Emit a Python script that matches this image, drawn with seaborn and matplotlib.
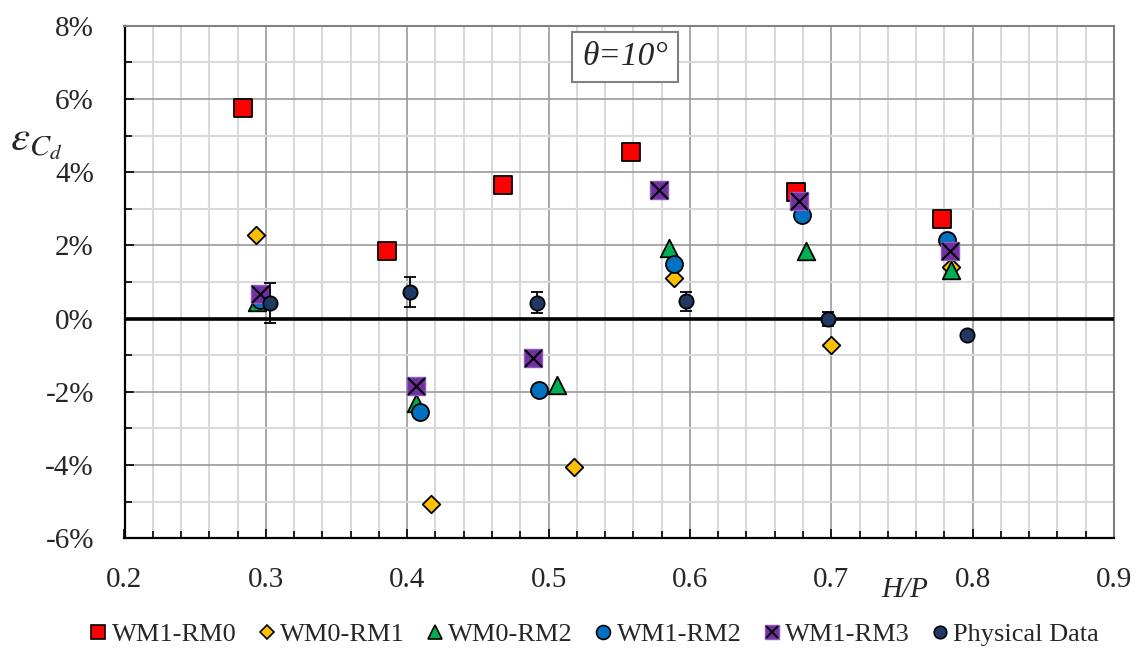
import matplotlib
matplotlib.use("Agg")
import matplotlib.pyplot as plt
from matplotlib.lines import Line2D
from matplotlib.legend_handler import HandlerTuple
from matplotlib.ticker import MultipleLocator, FuncFormatter
import pandas as pd
import seaborn as sns

# Discharge-coefficient error (%) against head ratio H/P, theta = 10 deg
hp_wm1_rm0 = [0.284, 0.386, 0.468, 0.558, 0.675, 0.778]
ecd_wm1_rm0 = [5.76, 1.85, 3.66, 4.55, 3.47, 2.72]

hp_wm0_rm1 = [0.293, 0.417, 0.518, 0.589, 0.700, 0.785]
ecd_wm0_rm1 = [2.27, -5.07, -4.06, 1.11, -0.73, 1.41]

hp_wm0_rm2 = [0.294, 0.406, 0.506, 0.585, 0.682, 0.785]
ecd_wm0_rm2 = [0.45, -2.30, -1.82, 1.93, 1.85, 1.34]

hp_wm1_rm2 = [0.296, 0.409, 0.493, 0.589, 0.679, 0.782]
ecd_wm1_rm2 = [0.50, -2.55, -1.94, 1.50, 2.84, 2.15]

hp_wm1_rm3 = [0.296, 0.406, 0.489, 0.578, 0.677, 0.784]
ecd_wm1_rm3 = [0.68, -1.85, -1.07, 3.50, 3.22, 1.86]

hp_phys = [0.303, 0.402, 0.492, 0.597, 0.698, 0.796]
ecd_phys = [0.43, 0.72, 0.44, 0.47, -0.01, -0.45]
err_phys = [0.55, 0.41, 0.30, 0.25, 0.19, 0.06]

series_names = ["WM1-RM0", "WM0-RM1", "WM0-RM2", "WM1-RM2", "WM1-RM3", "Physical Data"]

sns.set_theme(style="white")
plt.rcParams["font.family"] = ["Liberation Serif", "DejaVu Serif"]
plt.rcParams["mathtext.fontset"] = "stix"

fig = plt.figure(figsize=(11.39, 6.5), dpi=100)
ax = fig.add_axes([124.5 / 1139, 1 - 538.3 / 650, (1114 - 124.5) / 1139, (538.3 - 25.7) / 650])

styles = [
    (hp_wm1_rm0, ecd_wm1_rm0, "s", 150, "#FF0000"),
    (hp_wm0_rm1, ecd_wm0_rm1, "D", 80, "#FFC000"),
    (hp_wm0_rm2, ecd_wm0_rm2, "^", 160, "#00B050"),
    (hp_wm1_rm2, ecd_wm1_rm2, "o", 150, "#0070C0"),
]
for i, (xs, ys, m, s, c) in enumerate(styles):
    df = pd.DataFrame({"hp": xs, "ecd": ys})
    sns.scatterplot(data=df, x="hp", y="ecd", marker=m, s=s, color=c,
                    edgecolor="black", linewidth=1.3, ax=ax, zorder=4 + i, legend=False)

# purple square with a black cross drawn on top
df3 = pd.DataFrame({"hp": hp_wm1_rm3, "ecd": ecd_wm1_rm3})
sns.scatterplot(data=df3, x="hp", y="ecd", marker="s", s=160, color="#7030A0",
                edgecolor="#8E5BC0", linewidth=1.0, ax=ax, zorder=8, legend=False)
sns.scatterplot(data=df3, x="hp", y="ecd", marker="x", s=150, color="black",
                linewidth=1.5, ax=ax, zorder=9, legend=False)

# physical measurements with uncertainty bars
ax.errorbar(hp_phys, ecd_phys, yerr=err_phys, fmt="none", ecolor="black",
            elinewidth=1.3, capsize=4.5, capthick=1.3, zorder=10)
dfp = pd.DataFrame({"hp": hp_phys, "ecd": ecd_phys})
sns.scatterplot(data=dfp, x="hp", y="ecd", marker="o", s=105, color="#1F3864",
                edgecolor="black", linewidth=1.3, ax=ax, zorder=11, legend=False)

ax.axhline(0, color="black", lw=2.6, zorder=3)

ax.set_xlim(0.2, 0.9)
ax.set_ylim(-6, 8)
ax.xaxis.set_major_locator(MultipleLocator(0.1))
ax.xaxis.set_minor_locator(MultipleLocator(0.02))
ax.yaxis.set_major_locator(MultipleLocator(2))
ax.yaxis.set_minor_locator(MultipleLocator(1))
ax.xaxis.set_major_formatter(FuncFormatter(lambda v, p: f"{v:.1f}"))
ax.yaxis.set_major_formatter(FuncFormatter(lambda v, p: f"{v:.0f}%"))

ax.grid(which="minor", color="#D9D9D9", lw=1.5, zorder=0)
ax.grid(which="major", color="#999999", lw=1.2, zorder=1)
ax.set_axisbelow(True)

ax.tick_params(which="both", direction="in", top=False, right=False,
               left=True, bottom=True, color="black", width=1.2)
ax.tick_params(which="major", length=6.5)
ax.tick_params(which="minor", length=5)
ax.tick_params(axis="y", which="major", labelsize=21, pad=22)
ax.tick_params(axis="x", which="major", labelsize=21, pad=21)

for side in ["left", "bottom"]:
    ax.spines[side].set_color("black")
    ax.spines[side].set_linewidth(1.6)
for side in ["top", "right"]:
    ax.spines[side].set_color("#808080")
    ax.spines[side].set_linewidth(1.5)
    ax.spines[side].set_visible(True)

ax.set_xlabel("")
ax.set_ylabel("")
fig.text(905 / 1139, 1 - 590 / 650, "H/P", style="italic", fontsize=21,
         ha="center", va="center")
fig.text(36 / 1139, 1 - 143 / 650, r"$\varepsilon_{C_d}$", fontsize=31,
         ha="center", va="center")
fig.text(625 / 1139, 1 - 57 / 650, "θ=10°", style="italic", fontsize=24,
         ha="center", va="center",
         bbox=dict(boxstyle="square,pad=0.3", facecolor="white", edgecolor="#808080", lw=1.5))

purple_sq = Line2D([], [], ls="none", marker="s", ms=10, mfc="#7030A0", mec="#8E5BC0", mew=1.0)
purple_x = Line2D([], [], ls="none", marker="x", ms=9, mec="black", mew=1.3)
handles = [
    Line2D([], [], ls="none", marker="s", ms=10, mfc="#FF0000", mec="black", mew=1.2),
    Line2D([], [], ls="none", marker="D", ms=7, mfc="#FFC000", mec="black", mew=1.2),
    Line2D([], [], ls="none", marker="^", ms=10, mfc="#00B050", mec="black", mew=1.2),
    Line2D([], [], ls="none", marker="o", ms=10, mfc="#0070C0", mec="black", mew=1.2),
    (purple_sq, purple_x),
    Line2D([], [], ls="none", marker="o", ms=9, mfc="#1F3864", mec="black", mew=1.2),
]
fig.legend(handles, series_names, loc="center", bbox_to_anchor=(0.521, 1 - 634 / 650),
           ncol=6, frameon=False, fontsize=19, handletextpad=0.1,
           columnspacing=0.75, handlelength=0.8,
           handler_map={tuple: HandlerTuple(ndivide=1, pad=0)})

fig.savefig("out.png", dpi=100)
